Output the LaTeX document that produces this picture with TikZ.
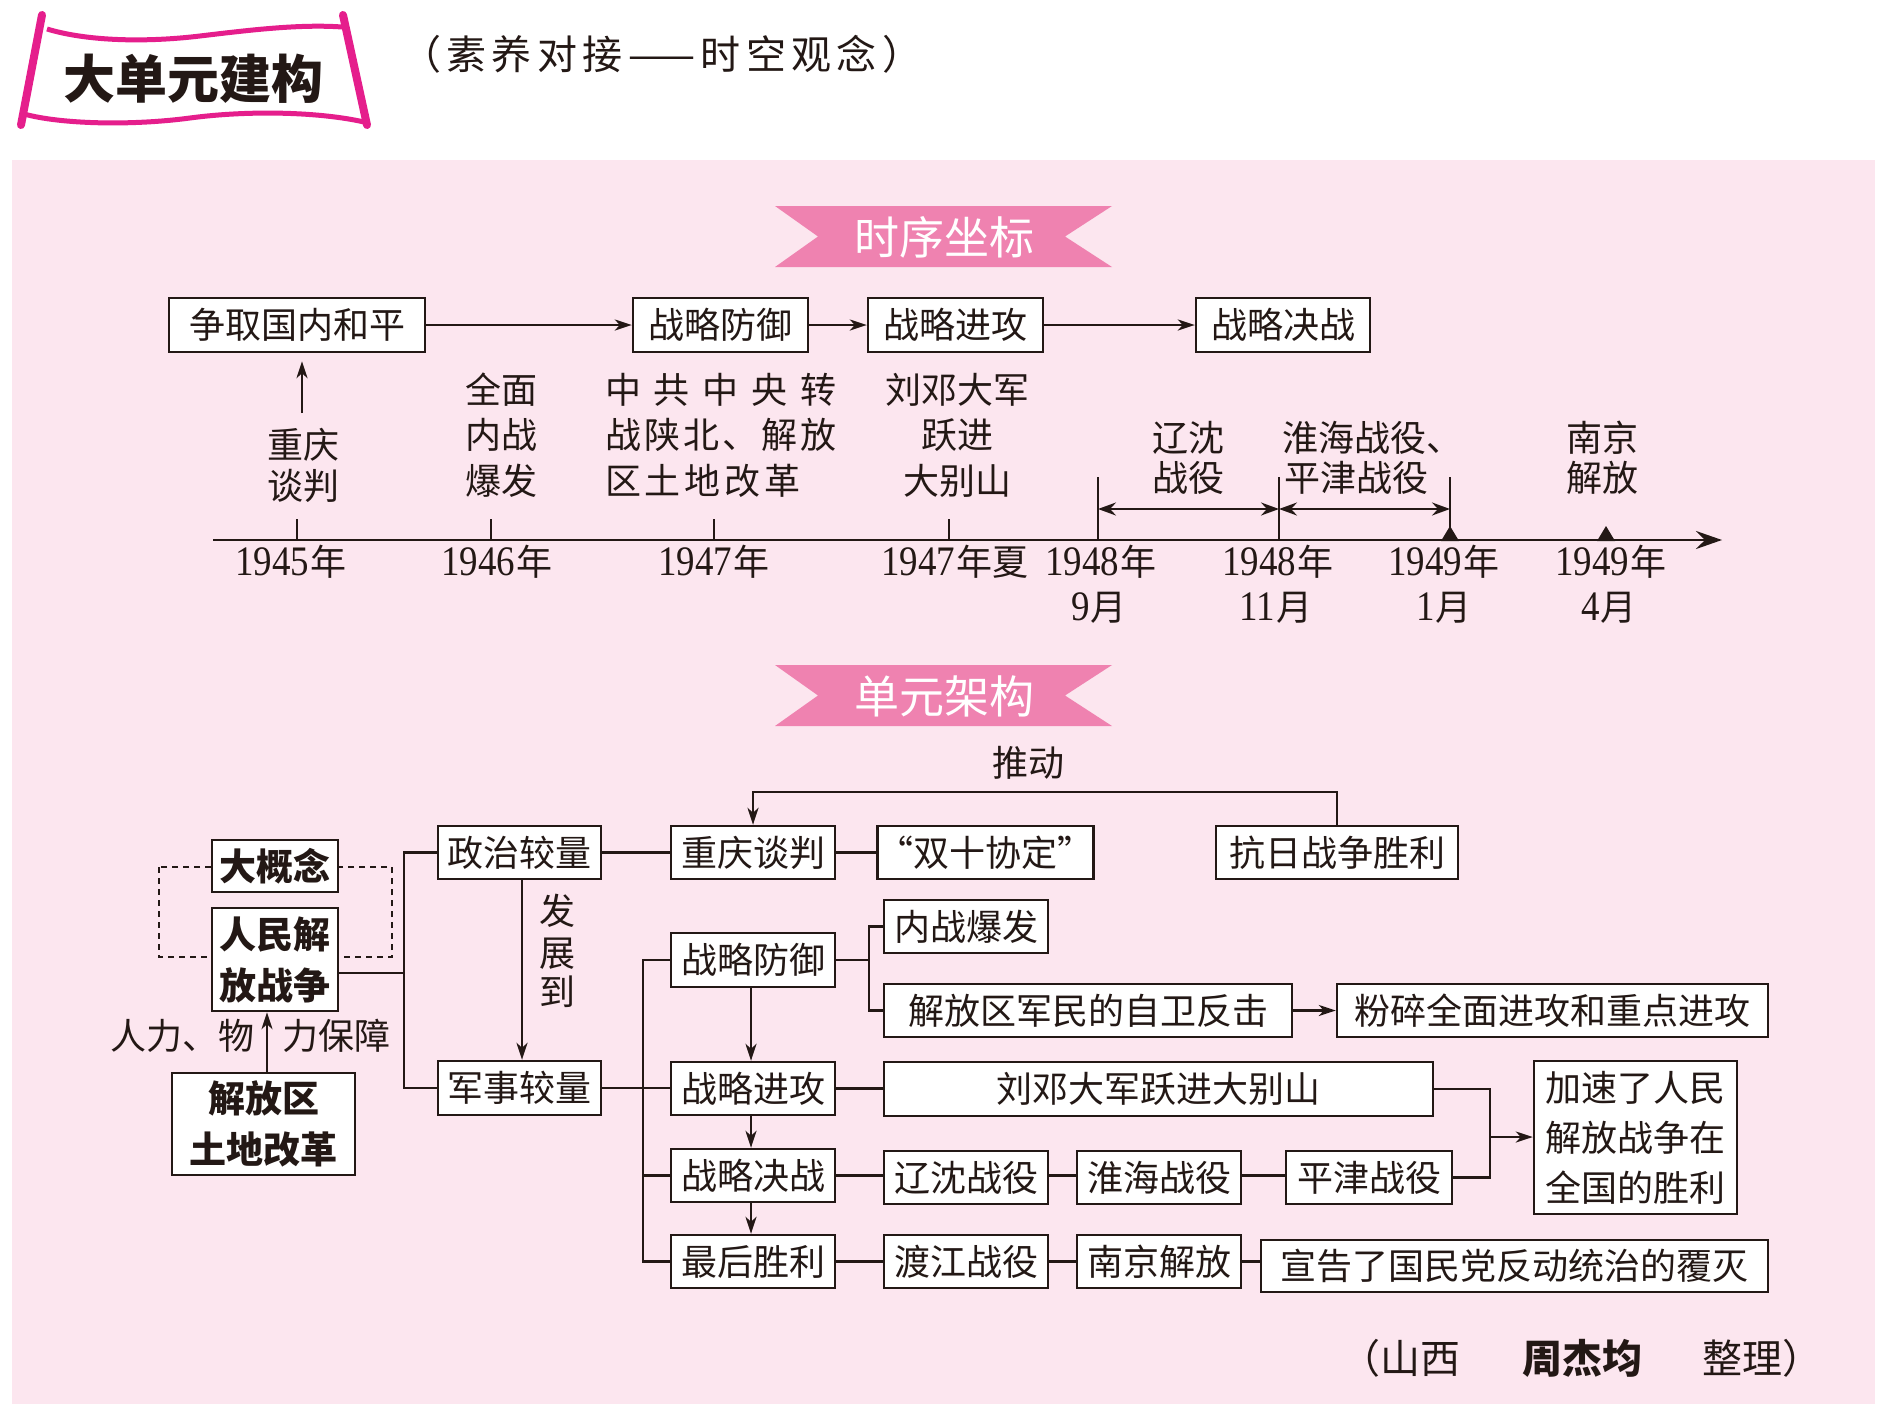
\documentclass[tikz,border=0pt]{standalone}
\usepackage{fontspec}
\setmainfont{Noto Sans CJK SC}
\newfontfamily\tnr[FakeStretch=0.88]{Liberation Serif}
\usetikzlibrary{arrows.meta}
\definecolor{ink}{RGB}{35,24,21}
\definecolor{bgpink}{RGB}{252,230,239}
\definecolor{ribbonpink}{RGB}{239,130,176}
\definecolor{scrollpink}{RGB}{229,30,140}
\newcommand\setfs[1]{\fontsize{#1pt}{#1pt}\selectfont}
\newcommand\yr[1]{{\tnr\setfs{42}#1}\kern2pt 年}
\newcommand\mon[1]{{\tnr\setfs{42}#1}\kern1pt 月}
\newcommand\mybox[7][]{\node[bx,minimum width={(#5-#3)*1pt},minimum height={(#6-#4)*1pt},#1] (#2) at ({(#3+#5)/2},{(#4+#6)/2}) {#7};}
\begin{document}
\begin{tikzpicture}[x=1pt,y=-1pt,
  bx/.style={draw=ink,line width=2.4pt,fill=white,inner sep=0pt,font=\setfs{36},text=ink,align=center},
  conn/.style={draw=ink,line width=2.4pt},
  arr/.style={conn,-{Stealth[length=17pt,width=11pt,inset=5pt]}},
  darr/.style={conn,{Stealth[length=18pt,width=13pt,inset=6pt]}-{Stealth[length=18pt,width=13pt,inset=6pt]}},
  lbl/.style={inner sep=0pt,font=\setfs{36},text=ink,text height=28pt,text depth=5pt},
  scroll/.style={draw=scrollpink}]
\useasboundingbox (0,0) rectangle (1879,1424);
\fill[white] (0,0) rectangle (1879,1424);
\fill[bgpink] (12,160) rectangle (1875,1404);

% ---------- header scroll ----------
\draw[scroll,line width=5pt] (47,29) .. controls (90,42) and (150,42) .. (200,36) .. controls (250,30) and (300,24) .. (342,27);
\draw[scroll,line width=5pt] (24,114) .. controls (60,124) and (130,126) .. (190,118) .. controls (250,110) and (320,112) .. (364,122);
\draw[scroll,line width=8pt,line cap=round] (42,15) -- (21,125);
\draw[scroll,line width=8pt,line cap=round] (343,15) -- (367,125);
\node[inner sep=0pt,text=ink,font=\bfseries\setfs{52}] (title) at (193,79) {大单元建构};
\node[inner sep=0pt,text=ink,font=\setfs{40},anchor=west] (subtitle) at (401,54) {\makebox[521pt][s]{（\hfil 素\hfil 养\hfil 对\hfil 接\hfil ——\hfil 时\hfil 空\hfil 观\hfil 念\hfil ）}};

% ---------- ribbons ----------
\fill[ribbonpink] (775,206) -- (1112,206) -- (1065,236.5) -- (1112,267) -- (775,267) -- (818,236.5) -- cycle;
\node[inner sep=0pt,text=white,font=\setfs{45}] (rib1) at (944,237) {时序坐标};
\fill[ribbonpink] (775,665) -- (1112,665) -- (1065,695.5) -- (1112,726) -- (775,726) -- (818,695.5) -- cycle;
\node[inner sep=0pt,text=white,font=\setfs{45}] (rib2) at (944,696) {单元架构};

% ---------- timeline top boxes ----------
\mybox{zq}{169}{298}{425}{352}{争取国内和平}
\mybox{fy1}{633}{298}{808}{352}{战略防御}
\mybox{jg1}{868}{298}{1043}{352}{战略进攻}
\mybox{jz1}{1196}{298}{1370}{352}{战略决战}
\draw[arr] (zq.east) -- (fy1.west);
\draw[arr] (fy1.east) -- (jg1.west);
\draw[arr] (jg1.east) -- (jz1.west);
\coordinate (cqup) at (302,413);
\draw[arr,shorten >=8pt] (cqup) -- (cqup |- zq.south);

% ---------- axis ----------
\coordinate (ax0) at (213,540);
\coordinate (ax1) at (1722,540);
\draw[conn,-{Stealth[length=26pt,width=18pt,inset=9pt]}] (ax0) -- (ax1);
\foreach \x in {297,491,714,949} \draw[conn,line width=2pt] (\x,519) -- (\x,540);
\foreach \x in {1098,1279,1450} \draw[conn,line width=2pt] (\x,477) -- (\x,540);
\coordinate (t9) at (1098,509);
\coordinate (t11) at (1279,509);
\coordinate (t1) at (1450,509);
\draw[darr] (t9) -- (t11);
\draw[darr] (t11) -- (t1);
\fill[ink] (1441,541) -- (1459,541) -- (1450,526) -- cycle;
\fill[ink] (1597,541) -- (1615,541) -- (1606,526) -- cycle;

% labels above axis
\node[lbl] (l1a) at (303,447) {重庆};
\node[lbl] (l1b) at (303,488) {谈判};
\node[lbl] (l2a) at (501,392) {全面};
\node[lbl] (l2b) at (501,437) {内战};
\node[lbl] (l2c) at (501,483) {爆发};
\node[lbl,anchor=west] (l3a) at (605,392) {\makebox[231pt][s]{中\hfil 共\hfil 中\hfil 央\hfil 转}};
\node[lbl,anchor=west] (l3b) at (605,437) {\makebox[231pt][s]{战\hfil 陕\hfil 北\hfil 、\hfil 解\hfil 放}};
\node[lbl,anchor=west] (l3c) at (605,483) {\makebox[195pt][s]{区\hfil 土\hfil 地\hfil 改\hfil 革}};
\node[lbl] (l4a) at (957,392) {刘邓大军};
\node[lbl] (l4b) at (957,437) {跃进};
\node[lbl] (l4c) at (957,483) {大别山};
\node[lbl] (l5a) at (1188,440) {辽沈};
\node[lbl] (l5b) at (1188,480) {战役};
\node[lbl,anchor=west] (l6a) at (1282,440) {淮海战役、};
\node[lbl,anchor=west] (l6b) at (1284,480) {平津战役};
\node[lbl] (l7a) at (1602,440) {南京};
\node[lbl] (l7b) at (1602,480) {解放};

% labels below axis
\node[lbl] (y1) at (291,564) {\yr{1945}};
\node[lbl] (y2) at (497,564) {\yr{1946}};
\node[lbl] (y3) at (714,564) {\yr{1947}};
\node[lbl] (y4) at (955,564) {\yr{1947}夏};
\node[lbl] (y5) at (1101,564) {\yr{1948}};
\node[lbl] (m5) at (1099,609) {\mon{9}};
\node[lbl] (y6) at (1278,564) {\yr{1948}};
\node[lbl] (m6) at (1276,609) {\mon{11}};
\node[lbl] (y7) at (1444,564) {\yr{1949}};
\node[lbl] (m7) at (1444,609) {\mon{1}};
\node[lbl] (y8) at (1611,564) {\yr{1949}};
\node[lbl] (m8) at (1609,609) {\mon{4}};

% ---------- unit structure ----------
\draw[ink,line width=2pt,dash pattern=on 6pt off 5pt] (159,867) rectangle (392,957);
\mybox[font=\bfseries\setfs{37}]{dgn}{212}{840}{338}{892}{大概念}
\mybox[font=\bfseries\fontsize{37pt}{51pt}\selectfont]{rmjf}{212}{908}{338}{1011}{人民解\\放战争}
\mybox[font=\bfseries\fontsize{37pt}{51pt}\selectfont]{jfq}{172}{1073}{355}{1175}{解放区\\土地改革}
\draw[arr] (jfq.north -| 267,0) -- (rmjf.south -| 267,0);
\node[lbl,anchor=east] (rlw1) at (255,1038) {人力、物};
\node[lbl,anchor=west] (rlw2) at (282,1038) {力保障};

\mybox{zz}{438}{826}{601}{879}{政治较量}
\mybox{js}{438}{1061}{601}{1115}{军事较量}
\coordinate (vl) at (404,973);
\draw[conn] (rmjf.east |- vl) -- (vl);
\draw[conn] (zz.west) -| (vl) |- (js.west);
\draw[arr] (zz.south -| 522,0) -- (js.north -| 522,0);
\node[lbl] (fz1) at (557,913) {发};
\node[lbl] (fz2) at (557,955) {展};
\node[lbl] (fz3) at (557,994) {到};

\mybox{cqtp}{671}{826}{835}{879}{重庆谈判}
\mybox{sxxd}{884}{826}{1087}{879}{“双十协定”}
\mybox{jkz}{1216}{826}{1458}{879}{抗日战争胜利}
\draw[conn] (zz.east) -- (cqtp.west);
\draw[conn] (cqtp.east) -- (sxxd.west);
\node[lbl] (td) at (1028,765) {推动};
\draw[arr] (jkz.north) -- ++(0,-33) -| (cqtp.north);

\mybox{fy2}{671}{933}{835}{987}{战略防御}
\mybox{jg2}{671}{1062}{835}{1115}{战略进攻}
\mybox{jz2}{671}{1149}{835}{1202}{战略决战}
\mybox{zhsl}{671}{1235}{835}{1288}{最后胜利}
\coordinate (mv) at (643,960);
\draw[conn] (fy2.west) -| (mv) |- (zhsl.west);
\draw[conn] (jz2.west) -- (jz2.west -| mv);
\draw[conn] (js.east) -- (js.east -| jg2.west);
\draw[arr] (fy2.south -| 751,0) -- (jg2.north -| 751,0);
\draw[arr] (jg2.south -| 751,0) -- (jz2.north -| 751,0);
\draw[arr] (jz2.south -| 751,0) -- (zhsl.north -| 751,0);

\mybox{ncbf}{884}{900}{1048}{953}{内战爆发}
\mybox{zwfj}{884}{984}{1292}{1037}{解放区军民的自卫反击}
\mybox{fsqm}{1337}{984}{1768}{1037}{粉碎全面进攻和重点进攻}
\coordinate (fb) at (869,960);
\draw[conn] (fy2.east) -- (fb);
\draw[conn] (ncbf.west) -| (fb) |- (zwfj.west);
\draw[arr] (zwfj.east) -- (fsqm.west);

\mybox{ldjj}{884}{1062}{1433}{1116}{刘邓大军跃进大别山}
\mybox{ls}{884}{1151}{1048}{1204}{辽沈战役}
\mybox{hh}{1077}{1151}{1241}{1204}{淮海战役}
\mybox{pj}{1286}{1151}{1452}{1204}{平津战役}
\mybox[font=\fontsize{36pt}{50pt}\selectfont]{jsq}{1534}{1061}{1737}{1214}{加速了人民\\解放战争在\\全国的胜利}
\draw[conn] (jg2.east) -- (jg2.east -| ldjj.west);
\draw[conn] (jz2.east) -- (jz2.east -| ls.west);
\draw[conn] (ls.east |- jz2.east) -- (jz2.east -| hh.west);
\draw[conn] (hh.east |- jz2.east) -- (jz2.east -| pj.west);
\coordinate (br) at (1490,1137);
\draw[conn] (ldjj.east) -| (br) |- (pj.east);
\draw[arr] (br) -- (br -| jsq.west);

\mybox{djzy}{884}{1235}{1048}{1288}{渡江战役}
\mybox{njjf}{1077}{1235}{1241}{1288}{南京解放}
\mybox{xg}{1261}{1240}{1768}{1292}{宣告了国民党反动统治的覆灭}
\draw[conn] (zhsl.east) -- (djzy.west);
\draw[conn] (djzy.east) -- (njjf.west);
\draw[conn] (njjf.east) -- (njjf.east -| xg.west);

% ---------- footer ----------
\node[lbl,font=\setfs{40},anchor=west] (ft1) at (1340,1362) {（山西};
\node[lbl,font=\bfseries\setfs{40}] (ft2) at (1582,1362) {周杰均};
\node[lbl,font=\setfs{40},anchor=east] (ft3) at (1823,1362) {整理）};
\end{tikzpicture}
\end{document}
